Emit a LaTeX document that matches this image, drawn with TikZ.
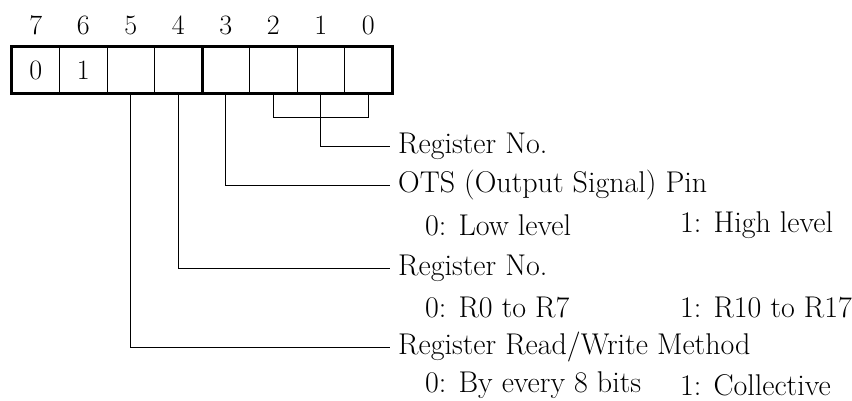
\documentclass[tikz,border=0pt]{standalone}
\begin{document}
\begin{tikzpicture}[x=1pt,y=-1pt,
    cell/.style={draw,line width=0.8pt,minimum width=47.5pt,minimum height=46pt,inner sep=0pt,font=\fontsize{28}{34}\selectfont},
    bitno/.style={font=\fontsize{28}{34}\selectfont},
    lbl/.style={anchor=west,inner xsep=8pt,inner ysep=0pt,font=\fontsize{30}{36}\selectfont},
    opt/.style={anchor=west,inner sep=0pt,font=\fontsize{30}{36}\selectfont},
    wire/.style={line width=0.8pt}]
    \useasboundingbox (0,0) rectangle (852,400);
    % Draw the register cells and the bit numbers
    \foreach \i/\v in {7/0,6/1,5/,4/,3/,2/,1/,0/} {
        \node[cell] (b\i) at ({12+47.5*(7.5-\i)},70) {\v};
        \node[bitno] (n\i) at ({12+47.5*(7.5-\i)},25) {\i};
    }
    % Draw the frame and the divider between bits 4 and 3
    \draw[line width=2.4pt] (b7.north west) rectangle (b0.south east);
    \draw[line width=2.4pt] (b4.north east) -- (b4.south east);
    % Label the fields
    \node[lbl] (regno) at (390,146) {Register No.};
    \node[lbl] (ots) at (390,185) {OTS (Output Signal) Pin};
    \node[opt] (ots0) at (425,225) {0: Low level};
    \node[opt] (ots1) at (680,225) {1: High level};
    \node[lbl] (bank) at (390,268) {Register No.};
    \node[opt] (bank0) at (425,307) {0: R0 to R7};
    \node[opt] (bank1) at (680,307) {1: R10 to R17};
    \node[lbl] (rw) at (390,347) {Register Read/Write Method};
    \node[opt] (rw0) at (425,385) {0: By every 8 bits};
    \node[opt] (rw1) at (680,385) {1: Collective};
    % Draw the bracket over bits 2 to 0
    \draw[wire] (b2.south) -- ++(0,24) -| (b0.south);
    % Draw the leader lines
    \draw[wire] (b1.south) |- (regno.west);
    \draw[wire] (b3.south) |- (ots.west);
    \draw[wire] (b4.south) |- (bank.west);
    \draw[wire] (b5.south) |- (rw.west);
\end{tikzpicture}
\end{document}
